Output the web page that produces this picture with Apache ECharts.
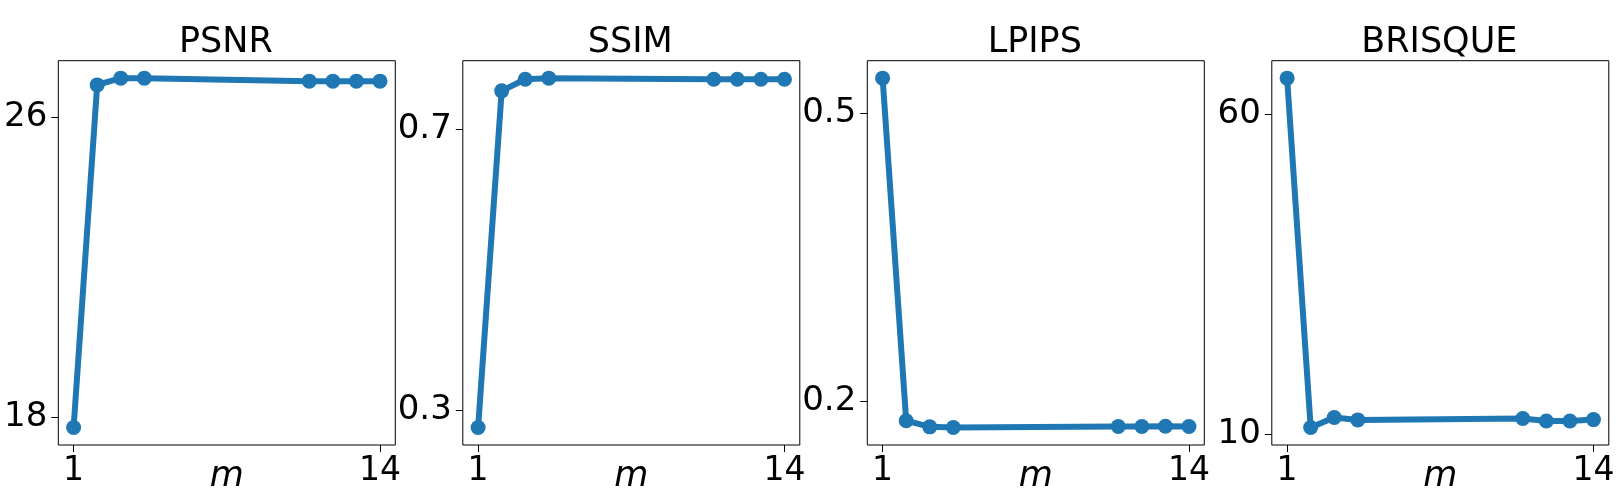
<!DOCTYPE html>
<html>
<head>
<meta charset="utf-8">
<script src="https://cdn.jsdelivr.net/npm/echarts@6/dist/echarts.min.js"></script>
<style>
html,body{margin:0;padding:0;background:#fff;}
#chart{width:1623px;height:500px;}
</style>
</head>
<body>
<div id="chart"></div>
<script>
const mValues = [1, 2, 3, 4, 11, 12, 13, 14];
const xTicks = [1, 14];
const titles = ['PSNR', 'SSIM', 'LPIPS', 'BRISQUE'];
const psnr = [17.72, 26.86, 27.04, 27.04, 26.96, 26.96, 26.96, 26.96];
const ssim = [0.2755, 0.754, 0.7705, 0.772, 0.7705, 0.7705, 0.7705, 0.7705];
const lpips = [0.537, 0.180, 0.1736, 0.1729, 0.174, 0.174, 0.1743, 0.174];
const brisque = [65.6, 11.09, 12.65, 12.28, 12.49, 12.12, 12.12, 12.33];
const psnrTicks = [18, 26];
const ssimTicks = [0.3, 0.7];
const lpipsTicks = [0.2, 0.5];
const brisqueTicks = [10, 60];

const seriesData = [psnr, ssim, lpips, brisque];
const yTicks = [psnrTicks, ssimTicks, lpipsTicks, brisqueTicks];

const FONT = 'DejaVu Sans';
const BLUE = '#1f77b4';
const gridLeft0 = 58.3, gridStep = 404.5, gridW = 337, gridTop = 60.7, gridH = 384.3;

function pad(arr) {
  const lo = Math.min(...arr), hi = Math.max(...arr), r = hi - lo;
  return [lo - 0.05 * r, hi + 0.05 * r];
}
const xr = pad(mValues);

const grids = [], xAxes = [], yAxes = [], series = [], title = [];
for (let i = 0; i < 4; i++) {
  const left = gridLeft0 + i * gridStep;
  grids.push({left: left, top: gridTop, width: gridW, height: gridH, show: true,
    borderColor: '#000', borderWidth: 1, backgroundColor: '#fff', containLabel: false,
    outerBoundsMode: 'none'});
  title.push({text: titles[i], left: left + gridW / 2 - 6, top: 20, textAlign: 'center',
    textStyle: {fontFamily: FONT, fontSize: 35, fontWeight: 'normal', color: '#000'}});
  xAxes.push({type: 'value', gridIndex: i, min: xr[0], max: xr[1],
    name: 'm', nameLocation: 'middle', nameGap: 14, nameMoveOverlap: false,
    nameTextStyle: {fontFamily: FONT, fontStyle: 'italic', fontSize: 35, color: '#000', verticalAlign: 'top'},
    axisLine: {show: false}, splitLine: {show: false},
    axisTick: {show: true, customValues: xTicks, length: 7, lineStyle: {color: '#000', width: 1}},
    axisLabel: {customValues: xTicks, fontFamily: FONT, fontSize: 33, color: '#000', margin: 10}});
  const yr = pad(seriesData[i]);
  yAxes.push({type: 'value', gridIndex: i, min: yr[0], max: yr[1], scale: true,
    axisLine: {show: false}, splitLine: {show: false},
    axisTick: {show: true, customValues: yTicks[i], length: 7, lineStyle: {color: '#000', width: 1}},
    axisLabel: {customValues: yTicks[i], fontFamily: FONT, fontSize: 34, color: '#000', margin: 11,
      formatter: v => String(+v.toFixed(4))}});
  series.push({type: 'line', xAxisIndex: i, yAxisIndex: i,
    data: mValues.map((m, k) => [m, seriesData[i][k]]),
    symbol: 'circle', symbolSize: 15, showSymbol: true,
    lineStyle: {color: BLUE, width: 6}, itemStyle: {color: BLUE},
    animation: false});
}

const chart = echarts.init(document.getElementById('chart'), null, {renderer: 'canvas'});
chart.setOption({backgroundColor: '#fff', animation: false, title, grid: grids, xAxis: xAxes, yAxis: yAxes, series});
</script>
</body>
</html>
